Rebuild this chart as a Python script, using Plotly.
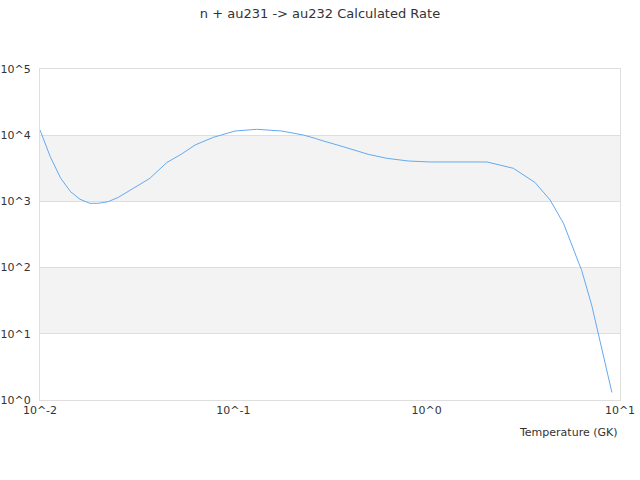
import plotly.graph_objects as go

# Data
temperature_gk = [0.01, 0.0113, 0.0128, 0.0144, 0.0161, 0.0181, 0.02, 0.0225, 0.0254,
                  0.0304, 0.037, 0.0452, 0.054, 0.0634, 0.0788, 0.102, 0.132, 0.178,
                  0.23, 0.265, 0.281, 0.37, 0.499, 0.621, 0.804, 1.04, 2.05, 2.81,
                  3.64, 4.35, 5.1, 6.34, 7.14, 9.08]
rate = [12000, 4730, 2230, 1400, 1076, 936, 936, 990, 1150,
        1580, 2230, 3850, 5200, 7110, 9290, 11570, 12280, 11570,
        10070, 8970, 8460, 6700, 5140, 4480, 4075, 3940, 3940, 3160,
        1920, 1050, 467, 90, 27, 1.3]

x_tick_vals = [0.01, 0.1, 1, 10]
x_tick_text = ["10^-2", "10^-1", "10^0", "10^1"]
y_tick_vals = [1, 10, 100, 1000, 10000, 100000]
y_tick_text = ["10^0", "10^1", "10^2", "10^3", "10^4", "10^5"]
shaded_bands = [(1000, 10000), (10, 100)]

title_text = "n + au231 -> au232 Calculated Rate"
x_title = "Temperature (GK)"

FONT = "DejaVu Sans"
TEXT_COLOR = "#333333"
GRID_COLOR = "#dedede"
LINE_COLOR = "rgb(100,170,240)"

fig = go.Figure()
fig.add_trace(go.Scatter(
    x=temperature_gk, y=rate, mode="lines",
    line=dict(color=LINE_COLOR, width=1),
    hoverinfo="x+y", showlegend=False,
))

shapes = []
for lo, hi in shaded_bands:
    shapes.append(dict(type="rect", xref="paper", yref="y", x0=0, x1=1, y0=lo, y1=hi,
                       fillcolor="#f3f3f3", line=dict(width=0), layer="below"))

fig.update_layout(
    width=640, height=480,
    margin=dict(l=40, r=20, t=69, b=80),
    paper_bgcolor="white", plot_bgcolor="white",
    font=dict(family=FONT, size=11, color=TEXT_COLOR),
    title=dict(text=title_text, x=0.5, xanchor="center", y=1 - 13 / 480, yanchor="middle",
               font=dict(family=FONT, size=13, color=TEXT_COLOR)),
    shapes=shapes,
    annotations=[dict(text=x_title, xref="paper", yref="paper", x=1, y=0,
                      xanchor="right", yanchor="top", yshift=-24, showarrow=False,
                      font=dict(family=FONT, size=11, color=TEXT_COLOR))],
)
fig.update_xaxes(type="log", range=[-2, 1], tickvals=x_tick_vals, ticktext=x_tick_text,
                 showgrid=False, showline=True, linecolor=GRID_COLOR, mirror=True,
                 ticks="", zeroline=False, tickfont=dict(size=11), automargin=False)
fig.update_yaxes(type="log", range=[0, 5], tickvals=y_tick_vals, ticktext=y_tick_text,
                 showgrid=True, gridcolor=GRID_COLOR, showline=True, linecolor=GRID_COLOR,
                 mirror=True, ticks="", zeroline=False, tickfont=dict(size=11),
                 automargin=False, ticklabelstandoff=6)

fig.write_html("out.html", config={"displayModeBar": False},
               post_script="document.body.style.margin='0';")
